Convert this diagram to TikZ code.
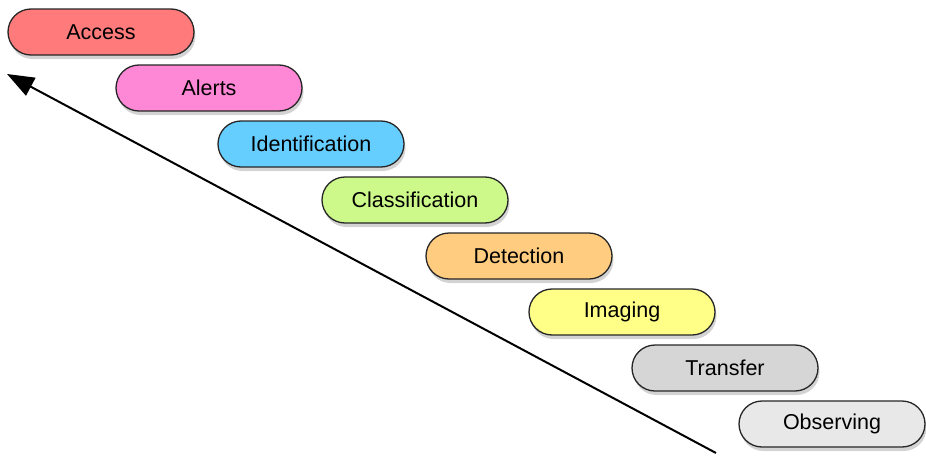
\documentclass[tikz,border=0pt]{standalone}
\usepackage{fontspec}
\setmainfont{Liberation Sans}
\usetikzlibrary{shapes,arrows.meta,shadows}

\definecolor{accesscol}{HTML}{FF7B7B}
\definecolor{alertscol}{HTML}{FF88D6}
\definecolor{identcol}{HTML}{66CDFF}
\definecolor{classcol}{HTML}{CCF98A}
\definecolor{detectcol}{HTML}{FFCC80}
\definecolor{imagecol}{HTML}{FFFF88}
\definecolor{transfercol}{HTML}{D6D6D6}
\definecolor{observecol}{HTML}{E8E8E8}

\tikzset{
  stage/.style={rounded rectangle, draw=black!85, line width=1.3pt,
    minimum width=186pt, minimum height=46pt, inner sep=0pt,
    font=\fontsize{21.5}{26}\selectfont,
    drop shadow={shadow xshift=1.5pt, shadow yshift=-4pt, opacity=0.35}}
}

\begin{document}
\begin{tikzpicture}[x=1pt, y=1pt]
            \useasboundingbox (0,0) rectangle (926,-455);
            % Stages
            \node[stage, fill=accesscol] (access) at (101,-32) {Access};
            \node[stage, fill=alertscol] (alerts) at (209,-88) {Alerts};
            \node[stage, fill=identcol] (ident) at (311,-144) {Identification};
            \node[stage, fill=classcol] (class) at (415,-200) {Classification};
            \node[stage, fill=detectcol] (detect) at (519,-256) {Detection};
            \node[stage, fill=imagecol] (imaging) at (622,-312) {Imaging};
            \node[stage, fill=transfercol] (transfer) at (725,-368) {Transfer};
            \node[stage, fill=observecol] (observe) at (832,-424) {Observing};
            
            % Arrow
            \coordinate (tail) at (716,-453);
            \coordinate (head) at (7,-74);
            \draw[-{Triangle[length=27pt, width=20pt]}, line width=2pt] (tail) -- (head);
        \end{tikzpicture}
\end{document}
